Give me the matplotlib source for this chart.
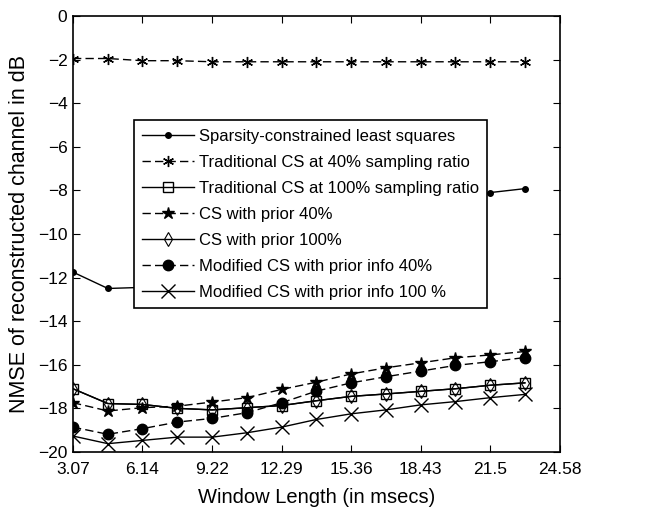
import matplotlib
matplotlib.use("Agg")
import matplotlib.pyplot as plt

plt.rcParams['font.family'] = ['Liberation Sans', 'DejaVu Sans']

# Window lengths (ms)
window_ms = [3.07, 4.61, 6.14, 7.68, 9.22, 10.75, 12.29, 13.82,
             15.36, 16.89, 18.43, 19.96, 21.5, 23.03]

# NMSE (dB) for each reconstruction method
sparsity_ls = [-11.75, -12.5, -12.45, -12.2, -11.8, -11.3, -10.8, -10.3,
               -9.8, -9.35, -8.9, -8.5, -8.1, -7.92]
trad_cs_40 = [-1.95, -1.95, -2.05, -2.05, -2.1, -2.1, -2.1, -2.1,
              -2.1, -2.1, -2.1, -2.1, -2.1, -2.1]
trad_cs_100 = [-17.1, -17.78, -17.82, -18.0, -18.07, -17.97, -17.87, -17.65,
               -17.45, -17.34, -17.22, -17.1, -16.94, -16.83]
cs_prior_40 = [-17.74, -18.12, -17.97, -17.9, -17.71, -17.51, -17.13, -16.8,
               -16.42, -16.14, -15.91, -15.68, -15.55, -15.39]
cs_prior_100 = [-17.1, -17.78, -17.82, -18.0, -18.07, -17.97, -17.87, -17.65,
                -17.45, -17.34, -17.22, -17.1, -16.94, -16.83]
mod_cs_40 = [-18.86, -19.19, -18.93, -18.63, -18.46, -18.2, -17.74, -17.21,
             -16.83, -16.55, -16.29, -16.03, -15.86, -15.67]
mod_cs_100 = [-19.27, -19.62, -19.47, -19.32, -19.32, -19.12, -18.86, -18.51,
              -18.25, -18.07, -17.84, -17.69, -17.51, -17.36]

x_ticks = [3.07, 6.14, 9.22, 12.29, 15.36, 18.43, 21.5, 24.58]
x_tick_labels = ['3.07', '6.14', '9.22', '12.29', '15.36', '18.43', '21.5', '24.58']
y_ticks = [0, -2, -4, -6, -8, -10, -12, -14, -16, -18, -20]

fig = plt.figure(figsize=(6.54, 5.13), dpi=100)
ax = fig.add_axes([0.1116, 0.119, 0.7446, 0.8498])

k = 'black'
asterisk = (6, 2, 0)
ax.plot(window_ms, sparsity_ls, '-', color=k, lw=1, marker='o', ms=4,
        label='Sparsity-constrained least squares')
ax.plot(window_ms, trad_cs_40, '--', color=k, lw=1, marker=asterisk, ms=8,
        mew=1, dashes=(6, 3), label='Traditional CS at 40% sampling ratio')
ax.plot(window_ms, trad_cs_100, '-', color=k, lw=1, marker='s', ms=7.5,
        mfc='none', mew=1, label='Traditional CS at 100% sampling ratio')
ax.plot(window_ms, cs_prior_40, '--', color=k, lw=1, marker='*', ms=9,
        dashes=(6, 3), label='CS with prior 40%')
ax.plot(window_ms, cs_prior_100, '-', color=k, lw=1, marker='d', ms=7,
        mfc='none', mew=0.8, label='CS with prior 100%')
ax.plot(window_ms, mod_cs_40, '--', color=k, lw=1, marker='o', ms=7.5,
        dashes=(6, 3), label='Modified CS with prior info 40%')
ax.plot(window_ms, mod_cs_100, '-', color=k, lw=1, marker='x', ms=9.5,
        mew=1, label='Modified CS with prior info 100 %')

ax.set_xlim(3.07, 24.58)
ax.set_ylim(-20, 0)
ax.set_xticks(x_ticks)
ax.set_xticklabels(x_tick_labels)
ax.set_yticks(y_ticks)
ax.tick_params(direction='in', top=True, right=True, length=5,
               labelsize=12.5)
ax.tick_params(axis='x', pad=7)
ax.tick_params(axis='y', pad=4)
for s in ax.spines.values():
    s.set_linewidth(1.2)

ax.set_xlabel('Window Length (in msecs)', fontsize=14.5, labelpad=8)
ax.set_ylabel('NMSE of reconstructed channel in dB', fontsize=15.5,
              labelpad=6)

leg = ax.legend(loc='upper left', bbox_to_anchor=(0.125, 0.761),
                borderaxespad=0, fontsize=12, frameon=True, fancybox=False,
                edgecolor='black', framealpha=1, handlelength=3.1,
                handletextpad=0.3, labelspacing=0.66, borderpad=0.5)
leg.get_frame().set_linewidth(1.2)
leg.set_zorder(5)

fig.savefig('out.png', dpi=100)
